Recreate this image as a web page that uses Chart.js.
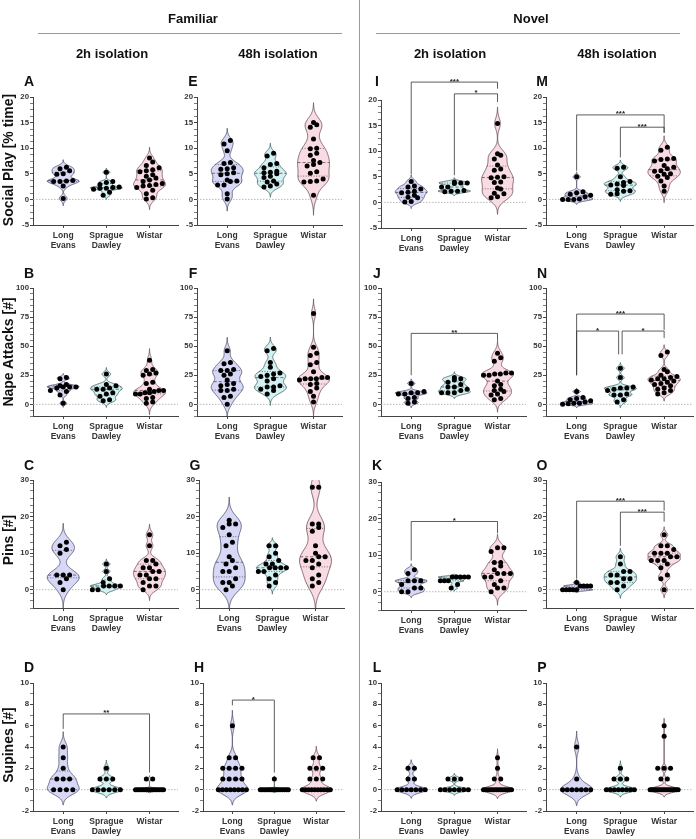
<!DOCTYPE html>
<html>
<head>
<meta charset="utf-8">
<script src="https://cdn.jsdelivr.net/npm/chart.js@4.4.0/dist/chart.umd.min.js"></script>
<style>
  body { margin: 0; background: #fff; width: 696px; height: 839px; position: relative; overflow: hidden;
         font-family: 'Liberation Sans', Arial, sans-serif; }
  .t { position: absolute; font-weight: bold; color: #111; white-space: nowrap; transform: translate(-50%, -50%); }
  .rot { transform: translate(-50%, -50%) rotate(-90deg); }
  .hline { position: absolute; height: 0; border-top: 1.5px solid #9a9a9a; }
  .vline { position: absolute; width: 0; border-left: 1.5px solid #9a9a9a; }
  canvas { position: absolute; }
</style>
</head>
<body>
<script>
// ---- data: [Long Evans, Sprague Dawley, Wistar] ----
const strainLabels = [['Long', 'Evans'], ['Sprague', 'Dawley'], ['Wistar']];

const socialFam2h = [
  [6.3, 6.0, 5.6, 5.0, 4.9, 3.7, 3.6, 3.5, 3.5, 2.6, 0.2],
  [5.3, 3.5, 3.3, 2.9, 2.4, 2.3, 2.2, 2.2, 2.0, 1.4, 0.8],
  [8.1, 7.3, 6.6, 6.2, 5.8, 5.6, 5.4, 4.8, 4.5, 4.2, 3.8, 3.5, 3.1, 2.9, 2.7, 2.6, 2.3, 1.8, 1.1, 0.3, 0.1]
];
const socialFam48h = [
  [11.5, 10.8, 9.5, 7.2, 7.0, 6.2, 6.0, 5.9, 5.2, 5.0, 4.8, 3.8, 3.6, 3.5, 2.8, 2.8, 1.1, 0.1],
  [9.0, 8.5, 7.0, 6.8, 6.2, 5.5, 5.3, 5.2, 5.0, 4.5, 4.3, 3.6, 3.4, 3.0, 2.6, 2.4],
  [15.0, 14.6, 14.1, 11.8, 10.0, 9.9, 9.0, 8.6, 7.6, 7.2, 6.8, 6.5, 5.4, 5.1, 4.0, 3.6, 3.5, 3.4, 0.8]
];
const socialNov2h = [
  [4.1, 3.2, 3.0, 2.6, 2.2, 2.0, 1.9, 1.4, 1.0, 0.9, 0.2, 0.1],
  [4.0, 3.8, 3.8, 3.7, 3.0, 3.0, 2.3, 2.2, 2.2, 2.1],
  [15.4, 9.5, 9.2, 8.5, 7.3, 6.5, 6.3, 5.0, 4.9, 4.8, 4.0, 3.9, 2.8, 2.6, 1.8, 1.7, 1.1, 0.9]
];
const socialNov48h = [
  [4.4, 1.5, 1.3, 1.0, 0.8, 0.5, 0.1, 0.0, 0.0, 0.0],
  [6.3, 6.1, 4.4, 3.5, 3.3, 3.0, 2.8, 2.7, 1.9, 1.7, 1.6, 1.1, 1.0],
  [10.2, 9.6, 8.0, 7.9, 7.8, 7.5, 6.6, 6.3, 6.0, 5.6, 5.5, 5.0, 4.9, 4.5, 4.3, 3.6, 2.6, 1.6]
];

const napeFam2h = [
  [23, 22, 17, 16, 15, 15, 15, 14, 12, 11, 8, 1],
  [26, 17, 16, 14, 13, 13, 10, 9, 7, 4, 3],
  [38, 30, 29, 27, 26, 25, 19, 18, 13, 12, 12, 11, 10, 10, 9, 9, 6, 5, 2, 1]
];
const napeFam48h = [
  [46, 36, 35, 30, 29, 29, 26, 25, 21, 18, 17, 16, 13, 12, 12, 7, 6, 0],
  [48, 46, 36, 32, 27, 26, 25, 24, 22, 20, 16, 15, 15, 13, 12, 9],
  [78, 49, 44, 42, 36, 34, 28, 23, 23, 22, 22, 22, 21, 18, 17, 14, 11, 7, 2]
];
const napeNov2h = [
  [18, 11, 10, 10, 9, 9, 6, 5, 2, 1],
  [23, 22, 21, 19, 17, 15, 15, 13, 12, 10, 10, 10],
  [44, 40, 37, 27, 27, 26, 26, 25, 25, 20, 17, 16, 13, 12, 11, 9, 8, 5, 4]
];
const napeNov48h = [
  [11, 6, 5, 4, 3, 2, 1, 1, 0.5, 0],
  [31, 23, 15, 14, 14, 13, 12, 9, 8, 8, 4, 2],
  [45, 42, 30, 28, 25, 24, 23, 22, 22, 21, 20, 19, 18, 17, 16, 14, 13, 12, 10, 9]
];

const pinsFam2h = [
  [13, 12, 11, 10, 4, 4, 4, 3, 2, 0],
  [7, 5, 3, 2, 1, 1, 1, 1, 0, 0],
  [15, 12, 8, 8, 7, 6, 6, 5, 5, 4, 4, 3, 3, 2, 1, 1, 0]
];
const pinsFam48h = [
  [19, 18, 18, 17, 15, 13, 12, 9, 8, 7, 6, 5, 5, 3, 2, 2, 1, 0],
  [12, 12, 10, 9, 8, 7, 7, 6, 6, 6, 6, 5, 5, 4, 3, 2, 1],
  [28, 28, 18, 18, 17, 16, 12, 10, 9, 9, 8, 8, 7, 6, 4, 3, 2, 1]
];
const pinsNov2h = [
  [6, 5, 3, 3, 3, 2, 1, 1, 0, 0],
  [4, 4, 4, 4, 4, 3, 3, 3, 2, 1],
  [12, 12, 11, 8, 8, 7, 6, 5, 5, 5, 4, 4, 3, 2, 1, 1, 0]
];
const pinsNov48h = [
  [2, 1, 1, 1, 1, 0, 0, 0, 0, 0],
  [9, 7, 5, 5, 4, 4, 3, 3, 2, 2, 1, 0],
  [15, 12, 12, 11, 10, 10, 10, 9, 9, 8, 8, 8, 7, 6, 4, 3, 0]
];

const supinesFam2h = [
  [4, 3, 2, 1, 1, 1, 0, 0, 0, 0],
  [2, 1, 1, 1, 0, 0, 0, 0, 0, 0],
  [1, 1, 0, 0, 0, 0, 0, 0, 0, 0, 0, 0, 0, 0, 0, 0, 0, 0]
];
const supinesFam48h = [
  [6, 3, 3, 2, 2, 2, 2, 1, 1, 1, 1, 0, 0, 0, 0, 0, 0, 0, 0],
  [1, 0, 0, 0, 0, 0, 0, 0, 0, 0, 0, 0, 0, 0, 0, 0, 0],
  [3, 3, 2, 2, 2, 1, 1, 1, 0, 0, 0, 0, 0, 0, 0, 0, 0, 0]
];
const supinesNov2h = [
  [2, 2, 1, 1, 0, 0, 0, 0, 0, 0, 0],
  [1, 1, 1, 0, 0, 0, 0, 0, 0, 0],
  [3, 2, 1, 1, 0, 0, 0, 0, 0, 0, 0, 0, 0, 0, 0, 0, 0, 0]
];
const supinesNov48h = [
  [4, 1, 0, 0, 0, 0, 0, 0, 0],
  [2, 1, 1, 1, 0, 0, 0, 0, 0, 0, 0, 0],
  [6, 5, 2, 2, 2, 1, 1, 0, 0, 0, 0, 0, 0, 0, 0, 0, 0, 0, 0, 0, 0, 0, 0]
];

// y axes per row: labelled ticks
const socialTicks = [-5, 0, 5, 10, 15, 20];
const napeTicks = [0, 25, 50, 75, 100];
const pinsTicks = [0, 10, 20, 30];
const supinesTicks = [-2, 0, 2, 4, 6, 8, 10];

// significance brackets: [fromGroup, toGroup, barY, leftLegEndY, rightLegEndY, label]
const bracketsI = [[0, 2, 23.5, 5.5, 22.2, '***'], [1, 2, 21.2, 5.3, 19.6, '*']];
const bracketsM = [[0, 2, 16.5, 5.6, 13, '***'], [1, 2, 14.1, 8.2, 13, '***']];
const bracketsJ = [[0, 2, 61, 25, 55, '**']];
const bracketsN = [[0, 2, 77.6, 25, 64, '***'], [0, 0.96, 63, 25, 43, '*'], [1.04, 2, 63, 43, 57, '*']];
const bracketsK = [[0, 2, 19.2, 8.5, 16, '*']];
const bracketsO = [[0, 2, 24.2, 3, 21.6, '***'], [1, 2, 21.2, 12, 18.6, '***']];
const bracketsD = [[0, 2, 7.1, 5.7, 1.6, '**']];
const bracketsH = [[0, 1, 8.4, 7.9, 1.6, '*']];

// ---- layout / style ----
const rowAxes = [
  { min: -5, max: 20, ticks: socialTicks, minor: 1.25 },
  { min: -10, max: 100, ticks: napeTicks, minor: 5 },
  { min: -5, max: 30, ticks: pinsTicks, minor: 2 },
  { min: -2, max: 10, ticks: supinesTicks, minor: 1 }
];
const colAxisX = [33, 197, 381, 546];
const colPlotW = [145, 145, 145, 147];
const rowTopY = [97, 288, 480, 683];
const rowLetterY = [81, 273, 465, 667];
const plotH = 128;
const xMin = -0.7, xMax = 2.66;
const fills = ['#d7d7f6', '#d3f1f2', '#f9dbe4'];
const strokes = ['#4b4b66', '#3f5d5e', '#6a4a55'];

const panels = [
  { id: 'A', row: 0, col: 0, data: socialFam2h, br: [] },
  { id: 'E', row: 0, col: 1, data: socialFam48h, br: [] },
  { id: 'I', row: 0, col: 2, data: socialNov2h, br: bracketsI, dy: 3 },
  { id: 'M', row: 0, col: 3, data: socialNov48h, br: bracketsM },
  { id: 'B', row: 1, col: 0, data: napeFam2h, br: [] },
  { id: 'F', row: 1, col: 1, data: napeFam48h, br: [] },
  { id: 'J', row: 1, col: 2, data: napeNov2h, br: bracketsJ },
  { id: 'N', row: 1, col: 3, data: napeNov48h, br: bracketsN },
  { id: 'C', row: 2, col: 0, data: pinsFam2h, br: [] },
  { id: 'G', row: 2, col: 1, data: pinsFam48h, br: [], dx: 2 },
  { id: 'K', row: 2, col: 2, data: pinsNov2h, br: bracketsK, dy: 2 },
  { id: 'O', row: 2, col: 3, data: pinsNov48h, br: bracketsO },
  { id: 'D', row: 3, col: 0, data: supinesFam2h, br: bracketsD },
  { id: 'H', row: 3, col: 1, data: supinesFam48h, br: bracketsH, dx: 6, dw: -4 },
  { id: 'L', row: 3, col: 2, data: supinesNov2h, br: [] },
  { id: 'P', row: 3, col: 3, data: supinesNov48h, br: [] }
];

Chart.defaults.font.family = "'Liberation Sans', Arial, sans-serif";
Chart.defaults.font.weight = 'bold';

function addText(txt, x, y, size, cls) {
  const d = document.createElement('div');
  d.className = 't' + (cls ? ' ' + cls : '');
  d.textContent = txt;
  d.style.left = x + 'px';
  d.style.top = y + 'px';
  d.style.fontSize = size + 'px';
  document.body.appendChild(d);
}

function quantile(sorted, p) {
  const idx = (sorted.length - 1) * p;
  const lo = Math.floor(idx), hi = Math.ceil(idx);
  return sorted[lo] + (sorted[hi] - sorted[lo]) * (idx - lo);
}

function bandwidth(vals, range) {
  const n = vals.length;
  const mean = vals.reduce((a, b) => a + b, 0) / n;
  const sd = Math.sqrt(vals.reduce((a, b) => a + (b - mean) * (b - mean), 0) / (n - 1));
  const s = [...vals].sort((a, b) => a - b);
  const iqr = (quantile(s, 0.75) - quantile(s, 0.25)) / 1.34;
  const spread = iqr > 0 ? Math.min(sd, iqr) : sd;
  return Math.max(0.58 * spread * Math.pow(n, -0.2), range * 0.008);
}

// violin outline from a gaussian kernel density of the group's values
function violinShape(vals, range) {
  const h = bandwidth(vals, range);
  const lo = Math.min(...vals) - 3 * h, hi = Math.max(...vals) + 3 * h;
  const pts = [];
  let maxD = 0;
  for (let i = 0; i <= 160; i++) {
    const y = lo + (hi - lo) * i / 160;
    let d = 0;
    for (const v of vals) { const u = (y - v) / h; d += Math.exp(-0.5 * u * u); }
    pts.push({ y, d });
    if (d > maxD) maxD = d;
  }
  pts.forEach(p => { p.w = 0.37 * p.d / maxD; });
  return pts;
}

function widthAt(shape, y) {
  for (let i = 1; i < shape.length; i++) {
    if (shape[i].y >= y) {
      const a = shape[i - 1], b = shape[i];
      const t = (y - a.y) / (b.y - a.y);
      return a.w + (b.w - a.w) * t;
    }
  }
  return 0;
}

// spread points with similar values sideways, like a column scatter
function swarm(vals, cat, yPx, xPx) {
  const sorted = [...vals].sort((a, b) => a - b);
  const bin = 4.4 / yPx;
  const gap = 6.4 / xPx, span = 28 / xPx;
  const rows = [];
  let cur = null;
  for (const v of sorted) {
    if (!cur || v - cur.start >= bin) { cur = { start: v, items: [] }; rows.push(cur); }
    cur.items.push(v);
  }
  const out = [];
  for (const r of rows) {
    const k = r.items.length;
    const sp = k > 1 ? Math.min(gap, span / (k - 1)) : 0;
    r.items.forEach((v, i) => out.push({ x: cat + (i - (k - 1) / 2) * sp, y: v }));
  }
  return out;
}

const violinPlugin = {
  id: 'violins',
  beforeDatasetsDraw(chart) {
    const { ctx, chartArea: ca, scales: { x, y } } = chart;
    const cfg = chart.config.options.plugins.violins;
    ctx.save();
    ctx.beginPath();
    ctx.rect(ca.left, ca.top, ca.right - ca.left, ca.bottom - ca.top);
    ctx.clip();
    // dotted zero line
    ctx.strokeStyle = '#a8a8a8';
    ctx.lineWidth = 0.8;
    ctx.setLineDash([1.5, 1.5]);
    ctx.beginPath();
    ctx.moveTo(ca.left, y.getPixelForValue(0));
    ctx.lineTo(ca.right, y.getPixelForValue(0));
    ctx.stroke();
    ctx.setLineDash([]);
    cfg.groups.forEach((vals, g) => {
      const shape = cfg.shapes[g];
      ctx.beginPath();
      shape.forEach((p, i) => {
        const px = x.getPixelForValue(g + p.w), py = y.getPixelForValue(p.y);
        if (i === 0) ctx.moveTo(px, py); else ctx.lineTo(px, py);
      });
      for (let i = shape.length - 1; i >= 0; i--) {
        ctx.lineTo(x.getPixelForValue(g - shape[i].w), y.getPixelForValue(shape[i].y));
      }
      ctx.closePath();
      ctx.fillStyle = fills[g];
      ctx.fill();
      ctx.strokeStyle = strokes[g];
      ctx.lineWidth = 0.8;
      ctx.stroke();
      // median (dashed) and quartiles (dotted)
      const s = [...vals].sort((a, b) => a - b);
      [[0.5, [3, 2]], [0.25, [1, 1.6]], [0.75, [1, 1.6]]].forEach(([p, dash]) => {
        const q = quantile(s, p);
        const w = widthAt(shape, q);
        ctx.setLineDash(dash);
        ctx.beginPath();
        ctx.moveTo(x.getPixelForValue(g - w), y.getPixelForValue(q));
        ctx.lineTo(x.getPixelForValue(g + w), y.getPixelForValue(q));
        ctx.stroke();
      });
      ctx.setLineDash([]);
    });
    ctx.restore();
  },
  afterDatasetsDraw(chart) {
    const { ctx, scales: { x, y } } = chart;
    const cfg = chart.config.options.plugins.violins;
    ctx.save();
    ctx.strokeStyle = '#333';
    ctx.fillStyle = '#222';
    ctx.lineWidth = 0.8;
    ctx.font = "bold 8px 'Liberation Sans', Arial, sans-serif";
    ctx.textAlign = 'center';
    ctx.textBaseline = 'alphabetic';
    cfg.brackets.forEach(([a, b, yb, la, lb, label]) => {
      const x1 = x.getPixelForValue(a), x2 = x.getPixelForValue(b), Y = y.getPixelForValue(yb);
      ctx.beginPath();
      ctx.moveTo(x1, y.getPixelForValue(la));
      ctx.lineTo(x1, Y);
      ctx.lineTo(x2, Y);
      ctx.lineTo(x2, y.getPixelForValue(lb));
      ctx.stroke();
      ctx.fillText(label, (x1 + x2) / 2, Y + 1.5);
    });
    ctx.restore();
  }
};

const yAxisW = 24, padTop = 34, xAxisH = 32, padRight = 4;

panels.forEach(p => {
  const ax = rowAxes[p.row];
  const axisX = colAxisX[p.col] + (p.dx || 0);
  const plotW = colPlotW[p.col] + (p.dw || 0);
  const topY = rowTopY[p.row] + (p.dy || 0);
  const yPx = plotH / (ax.max - ax.min);
  const xPx = plotW / (xMax - xMin);

  const cv = document.createElement('canvas');
  const W = yAxisW + plotW + padRight, H = padTop + plotH + xAxisH;
  cv.width = W; cv.height = H;
  cv.style.width = W + 'px'; cv.style.height = H + 'px';
  cv.style.left = (axisX - yAxisW) + 'px';
  cv.style.top = (topY - padTop) + 'px';
  document.body.appendChild(cv);

  const minorTicks = [];
  for (let v = ax.min; v <= ax.max + 1e-9; v += ax.minor) minorTicks.push(Math.round(v * 1000) / 1000);
  ax.ticks.forEach(t => { if (!minorTicks.includes(t)) minorTicks.push(t); });
  minorTicks.sort((a, b) => a - b);

  const points = [];
  p.data.forEach((vals, g) => points.push(...swarm(vals, g, yPx, xPx)));

  new Chart(cv, {
    type: 'scatter',
    data: {
      datasets: [{
        data: points,
        pointRadius: 2.5,
        pointBackgroundColor: '#000',
        pointBorderWidth: 0,
        clip: false
      }]
    },
    options: {
      responsive: false,
      animation: false,
      events: [],
      devicePixelRatio: 1,
      layout: { padding: { top: padTop, right: padRight, left: 0, bottom: 0 } },
      plugins: {
        legend: { display: false },
        tooltip: { enabled: false },
        violins: {
          groups: p.data,
          shapes: p.data.map(v => violinShape(v, ax.max - ax.min)),
          brackets: p.br
        }
      },
      scales: {
        x: {
          type: 'linear', min: xMin, max: xMax,
          afterBuildTicks: s => { s.ticks = [0, 1, 2].map(v => ({ value: v })); },
          afterFit: s => { s.height = xAxisH; },
          ticks: {
            autoSkip: false, maxRotation: 0, padding: 2, color: '#333',
            font: { size: 8.5, weight: 'bold', lineHeight: 1.25 },
            callback: v => strainLabels[v]
          },
          grid: { drawOnChartArea: false, tickLength: 3, tickColor: '#444', tickWidth: 1 },
          border: { color: '#444', width: 1 }
        },
        y: {
          type: 'linear', min: ax.min, max: ax.max,
          afterBuildTicks: s => { s.ticks = minorTicks.map(v => ({ value: v })); },
          afterFit: s => { s.width = yAxisW; },
          ticks: {
            autoSkip: false, padding: 1, color: '#333',
            font: { size: 7.8, weight: 'bold' },
            callback: v => ax.ticks.includes(v) ? String(v) : ''
          },
          grid: {
            drawOnChartArea: false, tickLength: 3, tickColor: '#444',
            tickWidth: c => (c.tick && ax.ticks.includes(c.tick.value)) ? 1 : 0.7
          },
          border: { color: '#444', width: 1 }
        }
      }
    },
    plugins: [violinPlugin]
  });

  addText(p.id, axisX - 4, rowLetterY[p.row], 14);
});

// headers and row titles
addText('Familiar', 193, 18, 13);
addText('Novel', 531, 18, 13);
addText('2h isolation', 112, 53, 13);
addText('48h isolation', 278, 53, 13);
addText('2h isolation', 450, 53, 13);
addText('48h isolation', 617, 53, 13);
addText('Social Play [% time]', 8, 160, 14, 'rot');
addText('Nape Attacks [#]', 8, 352, 14, 'rot');
addText('Pins [#]', 8, 540, 14, 'rot');
addText('Supines [#]', 8, 745, 14, 'rot');

function addLine(cls, x, y, len) {
  const d = document.createElement('div');
  d.className = cls;
  d.style.left = x + 'px';
  d.style.top = y + 'px';
  if (cls === 'hline') d.style.width = len + 'px'; else d.style.height = len + 'px';
  document.body.appendChild(d);
}
addLine('hline', 38, 33, 304);
addLine('hline', 376, 33, 304);
addLine('vline', 359, 0, 839);
</script>
</body>
</html>
